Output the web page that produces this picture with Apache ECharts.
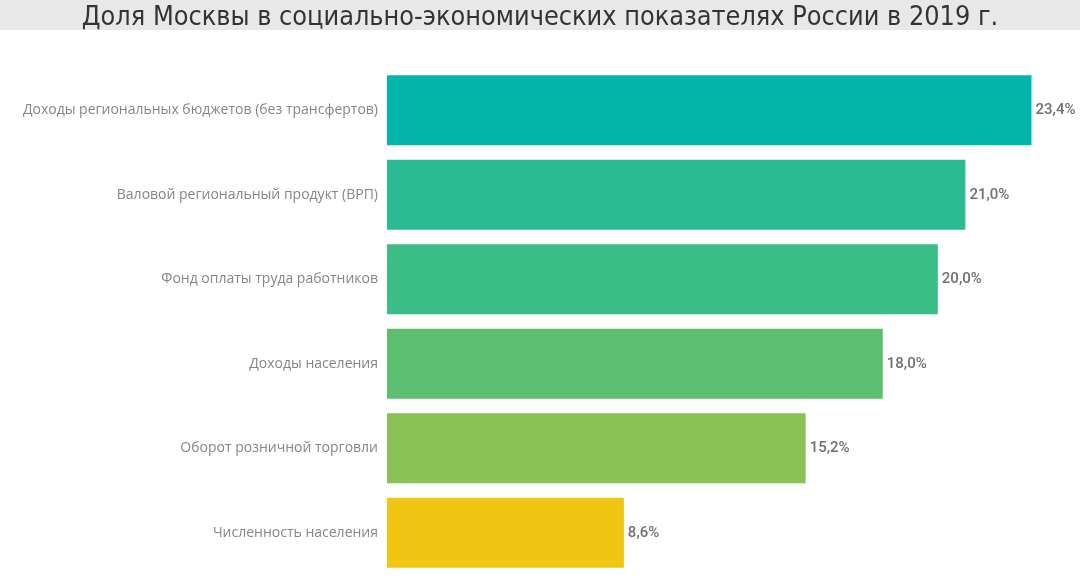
<!DOCTYPE html>
<html>
<head>
<meta charset="utf-8">
<script src="https://cdn.jsdelivr.net/npm/echarts@6/dist/echarts.min.js"></script>
<style>html,body{margin:0;padding:0;background:#fff}#c{width:1080px;height:580px}</style>
</head>
<body>
<div id="c"></div>
<script>
const titleText = 'Доля Москвы в социально-экономических показателях России в 2019 г.';
const categories = [
  'Доходы региональных бюджетов (без трансфертов)',
  'Валовой региональный продукт (ВРП)',
  'Фонд оплаты труда работников',
  'Доходы населения',
  'Оборот розничной торговли',
  'Численность населения'
];
const values = [23.4, 21.0, 20.0, 18.0, 15.2, 8.6];
const barColors = ['#03b5aa', '#2bbb92', '#3abd86', '#5cbf70', '#89c154', '#f0c514'];

const chart = echarts.init(document.getElementById('c'));
chart.setOption({
  backgroundColor: '#ffffff',
  animation: false,
  graphic: [{
    type: 'rect', left: 0, top: 0, z: -1,
    shape: { width: 1080, height: 30 },
    style: { fill: '#e8e8e8' }
  }],
  title: {
    text: titleText,
    left: 'center', top: 0,
    textStyle: { fontFamily: 'DejaVu Sans Condensed', fontWeight: 'normal', fontSize: 26.8, color: '#333333' }
  },
  grid: { left: 387, top: 68, width: 661, height: 507, containLabel: false },
  xAxis: {
    type: 'value', min: 0, max: 24, show: false
  },
  yAxis: {
    type: 'category', data: categories, inverse: true,
    axisLine: { show: false }, axisTick: { show: false },
    axisLabel: { color: '#858585', fontSize: 14, margin: 9, fontFamily: 'Open Sans' }
  },
  series: [{
    type: 'bar',
    data: values.map((v, i) => ({ value: v, itemStyle: { color: barColors[i] } })),
    barCategoryGap: '17%',
    label: {
      show: true, position: 'right', distance: 4,
      color: '#707070', fontSize: 15, fontWeight: 500, fontFamily: 'Roboto',
      formatter: p => p.value.toFixed(1).replace('.', ',') + '%'
    }
  }]
});
</script>
</body>
</html>
